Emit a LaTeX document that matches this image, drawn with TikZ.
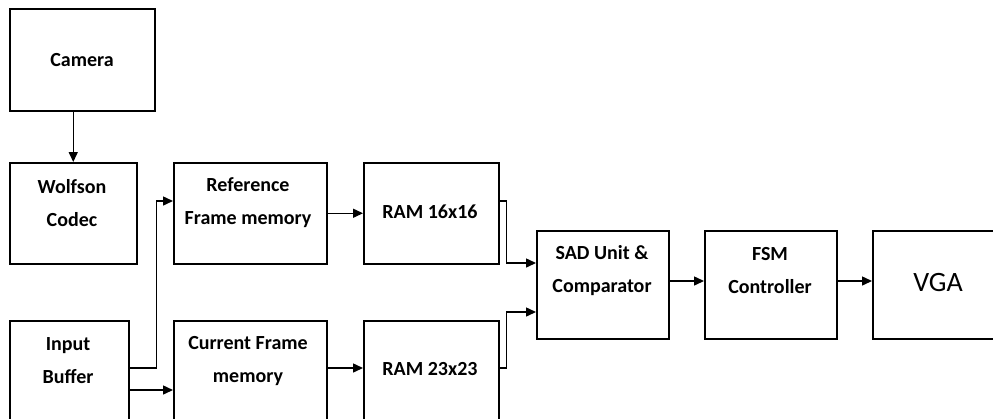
\documentclass[tikz,border=0pt]{standalone}
\usepackage{fontspec}
\setmainfont{Carlito}
\usetikzlibrary{arrows.meta,calc}
\begin{document}
\begin{tikzpicture}[x=1pt,y=-1pt,
  box/.style={draw, line width=1.5pt, inner sep=0pt, anchor=north west},
  lbl/.style={font=\fontsize{20}{33}\selectfont\bfseries, align=center, inner sep=0pt},
  conn/.style={line width=1.5pt, -{Triangle[length=10pt,width=9pt]}}]
\useasboundingbox (0,0) rectangle (993,418);
\clip (0,0) rectangle (993,418);
% boxes
\node[box, minimum width=145pt, minimum height=102pt] (cam) at (9,8) {};
\node[box, minimum width=127pt, minimum height=101pt] (wolf) at (9,162) {};
\node[box, minimum width=153pt, minimum height=101pt] (ref) at (173,162) {};
\node[box, minimum width=135pt, minimum height=101pt] (ram1) at (363,162) {};
\node[box, minimum width=119pt, minimum height=110pt] (inp) at (9,320) {};
\node[box, minimum width=153pt, minimum height=110pt] (cur) at (173,320) {};
\node[box, minimum width=135pt, minimum height=110pt] (ram2) at (363,320) {};
\node[box, minimum width=132pt, minimum height=108pt] (sad) at (536,230) {};
\node[box, minimum width=132pt, minimum height=108pt] (fsm) at (704,230) {};
\node[box, minimum width=140pt, minimum height=108pt] (vga) at (872,230) {};
% labels
\node[lbl] (camT) at (82,60) {Camera};
\node[lbl] (wolfT) at (72,203) {Wolfson\\Codec};
\node[lbl] (refT) at (248,203) {Reference\\Frame memory};
\node[lbl] (ram1T) at (430,212) {RAM 16x16};
\node[lbl] (inpT) at (68,361) {Input\\Buffer};
\node[lbl] (curT) at (248,361) {Current Frame\\memory};
\node[lbl] (ram2T) at (430,369) {RAM 23x23};
\node[lbl] (sadT) at (602,271) {SAD Unit \&\\Comparator};
\node[lbl] (fsmT) at (770,271) {FSM\\Controller};
\node[font=\fontsize{28}{30}\selectfont, inner sep=0pt] (vgaT) at (938,283) {VGA};
% connectors
\draw[conn] (cam.south -| wolf.north) -- (wolf.north);
\draw[conn] ($(inp.north east)+(0,48)$) -- ++(27,0) |- ($(ref.north west)+(0,39)$);
\draw[conn] ($(inp.north east)+(0,70)$) -- ($(cur.north west)+(0,70)$);
\draw[conn] (ref.east) -- (ram1.west);
\draw[conn] ($(cur.north east)+(0,48)$) -- ($(ram2.north west)+(0,48)$);
\draw[conn] ($(ram1.north east)+(0,39)$) -- ++(7,0) |- ($(sad.north west)+(0,33)$);
\draw[conn] ($(ram2.north east)+(0,48)$) -- ++(7,0) |- ($(sad.north west)+(0,82)$);
\draw[conn] ($(sad.north east)+(0,51)$) -- ($(fsm.north west)+(0,51)$);
\draw[conn] ($(fsm.north east)+(0,51)$) -- ($(vga.north west)+(0,51)$);
\end{tikzpicture}
\end{document}
